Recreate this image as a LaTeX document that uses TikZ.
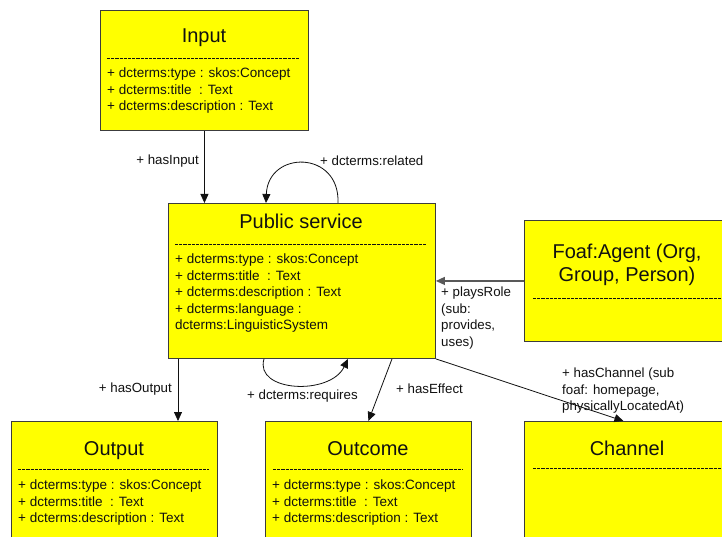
\documentclass[tikz,border=0pt]{standalone}
\usepackage{fontspec}
\setmainfont{Liberation Sans}
\usetikzlibrary{calc,arrows.meta}
\definecolor{boxline}{HTML}{3C3C3C}
\definecolor{boxfill}{HTML}{FFFF00}
\definecolor{txt}{HTML}{111111}
\begin{document}
\begin{tikzpicture}[x=1pt,y=-1pt,
 box/.style={draw=boxline, fill=boxfill, line width=0.9pt, rectangle, inner sep=0pt, anchor=north west},
 ttl/.style={font=\fontsize{20}{23}\selectfont, text=txt, inner sep=0pt, align=center},
 attr/.style={font=\fontsize{13.5}{16.5}\selectfont, text=txt, inner sep=0pt, anchor=north west, align=left},
 lbl/.style={font=\fontsize{13.3}{16.5}\selectfont, text=txt, inner sep=0pt, align=left},
 sep/.style={draw=txt, line width=0.8pt, dash pattern=on 3.2pt off 1pt},
 conn/.style={draw=txt, line width=0.8pt, -{Triangle[length=9pt,width=8pt]}}
]
\useasboundingbox (0,0) rectangle (722,537);
\clip (0,0) rectangle (722,537);
\fill[white] (0,0) rectangle (722,537);

% boxes
\node[box, minimum width=208pt, minimum height=120pt] (input) at (100,10) {};
\node[box, minimum width=267pt, minimum height=155pt] (ps) at (168,203) {};
\node[box, minimum width=206pt, minimum height=121pt] (foaf) at (524,220) {};
\node[box, minimum width=206pt, minimum height=140pt] (output) at (11,421) {};
\node[box, minimum width=206pt, minimum height=140pt] (outcome) at (265,421) {};
\node[box, minimum width=206pt, minimum height=140pt] (channel) at (524,421) {};

% titles
\node[ttl, anchor=base] (inputT) at (204,43) {Input};
\node[ttl, anchor=base] (psT) at (301,229) {Public service};
\node[ttl, anchor=north] (foafT) at (627,243) {\rule{0pt}{15pt}Foaf:Agent (Org,\\Group, Person)};
\node[ttl, anchor=base] (outputT) at (114,455) {Output};
\node[ttl, anchor=base] (outcomeT) at (368,455) {Outcome};
\node[ttl, anchor=base] (channelT) at (627,455) {Channel};

% separators
\draw[sep] ($(input.north west)+(7,48)$) -- ($(input.north east)+(-9,48)$);
\draw[sep] ($(ps.north west)+(7,41)$) -- ($(ps.north east)+(-10,41)$);
\draw[sep] ($(foaf.north west)+(9,78)$) -- ($(foaf.north east)+(-7,78)$);
\draw[sep] ($(output.north west)+(7,48)$) -- ($(output.north east)+(-9,48)$);
\draw[sep] ($(outcome.north west)+(8,48)$) -- ($(outcome.north east)+(-9,48)$);
\draw[sep] ($(channel.north west)+(9,47)$) -- ($(channel.north east)+(-7,47)$);

% attributes
\node[attr] (inputA) at (107,65.5) {\rule{0pt}{12pt}+ dcterms:type : skos:Concept\\+ dcterms:title~~: Text\\+ dcterms:description : Text};
\node[attr] (psA) at (175,251.5) {\rule{0pt}{12pt}+ dcterms:type : skos:Concept\\+ dcterms:title~~: Text\\+ dcterms:description : Text\\+ dcterms:language :\\dcterms:LinguisticSystem};
\node[attr] (outputA) at (18,477.5) {\rule{0pt}{12pt}+ dcterms:type : skos:Concept\\+ dcterms:title~~: Text\\+ dcterms:description : Text};
\node[attr] (outcomeA) at (272,477.5) {\rule{0pt}{12pt}+ dcterms:type : skos:Concept\\+ dcterms:title~~: Text\\+ dcterms:description : Text};

% connection points
\coordinate (relS) at ($(ps.north west)+(170,0)$);
\coordinate (relE) at ($(ps.north west)+(98,0)$);
\coordinate (reqS) at ($(ps.south west)+(96,0)$);
\coordinate (reqE) at ($(ps.south west)+(180,0)$);
\coordinate (psOut) at ($(ps.south west)+(10,0)$);
\coordinate (psEff) at ($(ps.south west)+(224,0)$);
\coordinate (chanIn) at ($(channel.north)+(-4,0)$);

% connectors
\draw[conn] (input.south) -- (input.south |- ps.north);
\draw[conn] (relS) .. controls (340,150) and (268,150) .. (relE);
\draw[conn] (reqS) .. controls (254,392) and (330,396) .. (reqE);
\draw[conn] (psOut) -- (psOut |- output.north);
\draw[conn] (psEff) -- (outcome.north);
\draw[conn] (ps.south east) -- (chanIn);
\draw[conn, draw=gray!70!black, line width=1.3pt] (foaf.west) -- (foaf.west -| ps.east);

% labels
\node[lbl, anchor=east] (lIn) at (199,161) {+ hasInput};
\node[lbl, anchor=west] (lRel) at (320,161) {+ dcterms:related};
\node[lbl, anchor=east] (lOut) at (172,389) {+ hasOutput};
\node[lbl, anchor=west] (lReq) at (247,396) {+ dcterms:requires};
\node[lbl, anchor=west] (lEff) at (396,389) {+ hasEffect};
\node[lbl, anchor=north west] (lChan) at (562,367.5) {\rule{0pt}{10pt}+ hasChannel (sub\\foaf: homepage,\\physicallyLocatedAt)};
\node[lbl, anchor=north west] (lRole) at (441,286.5) {\rule{0pt}{10pt}+ playsRole\\(sub:\\provides,\\uses)};
\end{tikzpicture}
\end{document}
